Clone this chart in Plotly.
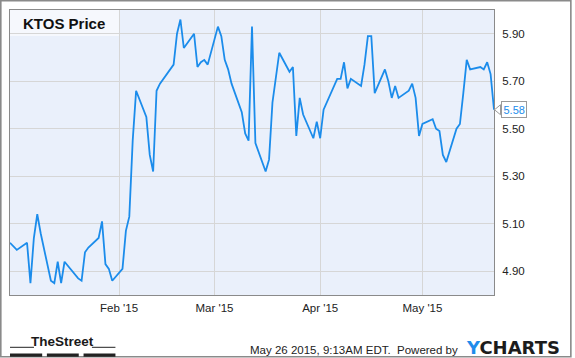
import plotly.graph_objects as go

# ---- data ----
dates = [
    "2014-12-31",
    "2015-01-02", "2015-01-05", "2015-01-06", "2015-01-07", "2015-01-08", "2015-01-09",
    "2015-01-12", "2015-01-13", "2015-01-14", "2015-01-15", "2015-01-16",
    "2015-01-20", "2015-01-21", "2015-01-22", "2015-01-23",
    "2015-01-26", "2015-01-27", "2015-01-28", "2015-01-29", "2015-01-30",
    "2015-02-02", "2015-02-03", "2015-02-04", "2015-02-05", "2015-02-06",
    "2015-02-09", "2015-02-10", "2015-02-11", "2015-02-12", "2015-02-13",
    "2015-02-17", "2015-02-18", "2015-02-19", "2015-02-20",
    "2015-02-23", "2015-02-24", "2015-02-25", "2015-02-26", "2015-02-27",
    "2015-03-02", "2015-03-03", "2015-03-04", "2015-03-05", "2015-03-06",
    "2015-03-09", "2015-03-10", "2015-03-11", "2015-03-12", "2015-03-13",
    "2015-03-16", "2015-03-17", "2015-03-18", "2015-03-19", "2015-03-20",
    "2015-03-23", "2015-03-24", "2015-03-25", "2015-03-26", "2015-03-27",
    "2015-03-30", "2015-03-31", "2015-04-01", "2015-04-02",
    "2015-04-06", "2015-04-07", "2015-04-08", "2015-04-09", "2015-04-10",
    "2015-04-13", "2015-04-14", "2015-04-15", "2015-04-16", "2015-04-17",
    "2015-04-20", "2015-04-21", "2015-04-22", "2015-04-23", "2015-04-24",
    "2015-04-27", "2015-04-28", "2015-04-29", "2015-04-30", "2015-05-01",
    "2015-05-04", "2015-05-05", "2015-05-06", "2015-05-07", "2015-05-08",
    "2015-05-11", "2015-05-12", "2015-05-13", "2015-05-14", "2015-05-15",
    "2015-05-18", "2015-05-19", "2015-05-20", "2015-05-21", "2015-05-22",
]
prices = [
    5.02,
    4.99, 5.02, 4.85, 5.04, 5.14, 5.06,
    4.86, 4.85, 4.94, 4.85, 4.94,
    4.87, 4.86, 4.98, 5.00,
    5.04, 5.11, 4.93, 4.91, 4.86,
    4.91, 5.07, 5.13, 5.45, 5.66,
    5.55, 5.39, 5.32, 5.66, 5.69,
    5.77, 5.90, 5.96, 5.84,
    5.90, 5.76, 5.78, 5.79, 5.77,
    5.93, 5.89, 5.79, 5.75, 5.69,
    5.57, 5.48, 5.45, 5.93, 5.44,
    5.32, 5.37, 5.61, 5.72, 5.82,
    5.74, 5.76, 5.47, 5.63, 5.56,
    5.46, 5.53, 5.46, 5.58,
    5.71, 5.71, 5.78, 5.67, 5.71,
    5.68, 5.77, 5.89, 5.89, 5.65,
    5.75, 5.70, 5.63, 5.68, 5.63,
    5.66, 5.69, 5.63, 5.47, 5.52,
    5.54, 5.50, 5.49, 5.39, 5.36,
    5.50, 5.52, 5.65, 5.79, 5.75,
    5.76, 5.75, 5.78, 5.73, 5.58,
]
x_tick_vals = ["2015-02-01", "2015-03-01", "2015-04-01", "2015-05-01"]
x_tick_text = ["Feb '15", "Mar '15", "Apr '15", "May '15"]
y_tick_vals = [4.90, 5.10, 5.30, 5.50, 5.70, 5.90]
y_tick_text = ["4.90", "5.10", "5.30", "5.50", "5.70", "5.90"]
title_text = "KTOS Price"
last_label = "5.58"
footer_text = "May 26 2015, 9:13AM EDT.  Powered by"

# ---- layout geometry (pixels) ----
W, H = 575, 358
L, R, T, B = 10, 494.3, 10, 295
pw, ph = R - L, B - T


def fx(px):
    return (px - L) / pw


def fy(py):
    return (B - py) / ph


LINE_BLUE = "#1b8ceb"
GRID = "#d6d6d6"
FRAME = "#8a8a8a"
FONT = "Arial, Liberation Sans, sans-serif"

fig = go.Figure()
fig.add_trace(go.Scatter(
    x=dates, y=prices, mode="lines",
    line=dict(color=LINE_BLUE, width=1.8),
    hoverinfo="skip", showlegend=False,
))

shapes = []
# title box (lighter)
shapes.append(dict(type="rect", xref="paper", yref="paper",
                   x0=fx(L), x1=fx(119), y0=fy(36), y1=fy(T),
                   fillcolor="rgba(255,255,255,0.55)", line=dict(width=0),
                   layer="between"))
# outer frame
shapes.append(dict(type="rect", xref="paper", yref="paper",
                   x0=fx(0.8), x1=fx(571.2), y0=fy(356.8), y1=fy(0.8),
                   line=dict(color=FRAME, width=1.6), fillcolor="rgba(0,0,0,0)"))
# value label pointer
shapes.append(dict(type="path", xref="paper", yref="y",
                   xsizemode="pixel", ysizemode="pixel",
                   xanchor=1, yanchor=prices[-1],
                   path="M 0.5 0 L 6.5 -5 L 6.5 5 Z",
                   fillcolor="white", line=dict(color="#9a9a9a", width=1)))
# TheStreet logo lines and bars
for (a, b) in [(10, 34), (92, 115.5)]:
    shapes.append(dict(type="line", xref="paper", yref="paper",
                       x0=fx(a), x1=fx(b), y0=fy(347.3), y1=fy(347.3),
                       line=dict(color="#222222", width=1)))
for (a, b) in [(10, 42.2), (46.9, 78.8), (83.6, 115.5)]:
    shapes.append(dict(type="rect", xref="paper", yref="paper",
                       x0=fx(a), x1=fx(b), y0=fy(356.8), y1=fy(353.4),
                       fillcolor="#222222", line=dict(width=0)))

annotations = [
    dict(text="<b>" + title_text + "</b>", xref="paper", yref="paper",
         x=fx(21.5), y=fy(23.8), xanchor="left", yanchor="middle",
         showarrow=False, font=dict(family=FONT, size=15, color="#111111")),
    dict(text=last_label, xref="paper", yref="y", x=1, y=prices[-1],
         xanchor="left", yanchor="middle", xshift=6.5, showarrow=False,
         font=dict(family=FONT, size=11, color=LINE_BLUE),
         bgcolor="white", bordercolor="#9a9a9a", borderwidth=1, borderpad=1.5),
    dict(text="<b>TheStreet</b>", xref="paper", yref="paper",
         x=fx(63), y=fy(341.5), xanchor="center", yanchor="middle",
         showarrow=False, borderpad=0,
         font=dict(family="Liberation Sans Narrow, Arial Narrow, Liberation Sans, sans-serif",
                   size=13.5, color="#1a1a1a")),
    dict(text=footer_text, xref="paper", yref="paper",
         x=fx(459.5), y=fy(350.3), xanchor="right", yanchor="middle",
         showarrow=False, borderpad=0,
         font=dict(family=FONT, size=11.5, color="#222222")),
    dict(text="<b><span style='color:#1f8ceb'>Y</span>CHARTS</b>", xref="paper", yref="paper",
         x=fx(465), y=fy(347), xanchor="left", yanchor="middle",
         showarrow=False, borderpad=0,
         font=dict(family="DejaVu Sans, sans-serif", size=18, color="#1c1c1c")),
]

fig.update_layout(
    width=W, height=H,
    margin=dict(l=L, r=W - R, t=T, b=H - B, pad=0),
    paper_bgcolor="white",
    plot_bgcolor="#eaf0fb",
    showlegend=False,
    shapes=shapes,
    annotations=annotations,
    xaxis=dict(
        type="date", range=["2014-12-31", "2015-05-22"],
        tickvals=x_tick_vals, ticktext=x_tick_text,
        showgrid=True, gridcolor=GRID, gridwidth=1,
        showline=True, linecolor=FRAME, linewidth=1, mirror=True,
        ticks="", zeroline=False,
        tickfont=dict(family=FONT, size=11.5, color="#222222"),
        ticklabelstandoff=2,
    ),
    yaxis=dict(
        range=[4.80, 6.00], side="right",
        tickvals=y_tick_vals, ticktext=y_tick_text,
        showgrid=True, gridcolor=GRID, gridwidth=1,
        showline=True, linecolor=FRAME, linewidth=1, mirror=True,
        ticks="", zeroline=False,
        tickfont=dict(family=FONT, size=11.5, color="#222222"),
        ticklabelstandoff=5,
    ),
)

fig.write_html("out.html")
